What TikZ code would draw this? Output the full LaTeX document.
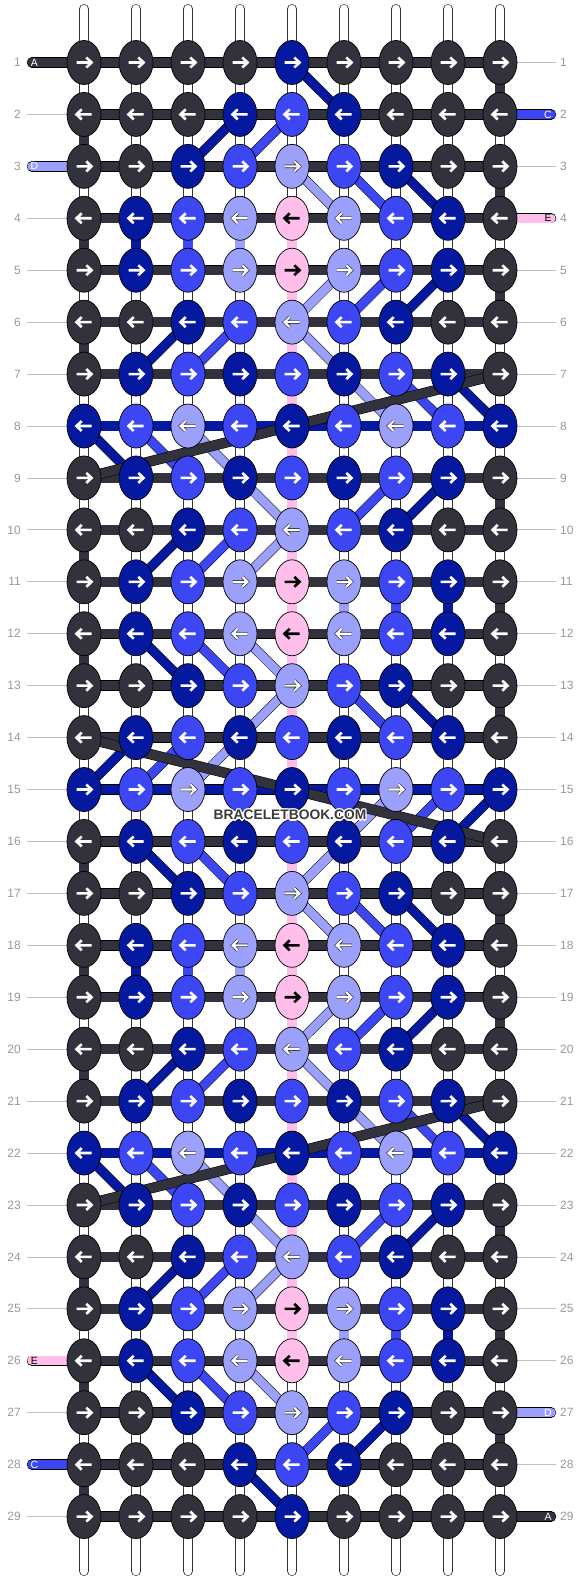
\documentclass[tikz,border=0pt]{standalone}
\usepackage{tikz}
\usepackage{fontspec}
\setmainfont{Liberation Sans}
\usetikzlibrary{shapes.geometric}
\definecolor{cK}{HTML}{32323C}
\definecolor{cB}{HTML}{0519A0}
\definecolor{cM}{HTML}{3C46F2}
\definecolor{cL}{HTML}{9BA0FA}
\definecolor{cP}{HTML}{FFBFEA}
\definecolor{labgray}{HTML}{999999}
\definecolor{glinec}{HTML}{C0C0C0}
\definecolor{wmc}{HTML}{3A3A3A}
\pgfdeclarelayer{l0}
\pgfdeclarelayer{l1}
\pgfdeclarelayer{l2}
\pgfdeclarelayer{l3}
\pgfdeclarelayer{top}
\pgfsetlayers{l0,l1,l2,l3,main,top}
\begin{document}
\begin{tikzpicture}[x=1pt,y=-1pt,
  knot/.style={ellipse, draw=black, line width=0.7pt, minimum width=34pt, minimum height=44pt, inner sep=0pt},
  strand/.style={draw=black, line width=0.5pt, double=#1, double distance=9.4pt},
  band/.style={draw=black, line width=0.5pt, double=#1, double distance=8.6pt},
  endstr/.style={draw=black, line width=0.5pt, double=#1, double distance=9.4pt, line cap=round},
  wstr/.style={draw=black!80, line width=0.6pt, double=white, double distance=8.8pt, line cap=round},
  arrK/.style={draw=white, line width=2.6pt},
  arrB/.style={arrK}, arrM/.style={arrK},
  arrL/.style={draw=black!85, line width=0.6pt, double=white, double distance=2.1pt},
  arrP/.style={draw=black, line width=2.6pt},
  numlab/.style={text=labgray, font=\fontsize{12}{12}\selectfont, inner sep=0pt},
  letter/.style={font=\fontsize{10.5}{10.5}\selectfont, inner sep=0pt},
  wm/.style={font=\bfseries\fontsize{13.8}{14}\selectfont, inner sep=0pt}
]
\path[use as bounding box] (0,0) rectangle (584,1580);
% knots
\foreach \r/\row in {
1/{K,K,K,K,B,K,K,K,K},
2/{K,K,K,B,M,B,K,K,K},
3/{K,K,B,M,L,M,B,K,K},
4/{K,B,M,L,P,L,M,B,K},
5/{K,B,M,L,P,L,M,B,K},
6/{K,K,B,M,L,M,B,K,K},
7/{K,B,M,B,M,B,M,B,K},
8/{B,M,L,M,B,M,L,M,B},
9/{K,B,M,B,M,B,M,B,K},
10/{K,K,B,M,L,M,B,K,K},
11/{K,B,M,L,P,L,M,B,K},
12/{K,B,M,L,P,L,M,B,K},
13/{K,K,B,M,L,M,B,K,K},
14/{K,B,M,B,M,B,M,B,K},
15/{B,M,L,M,B,M,L,M,B},
16/{K,B,M,B,M,B,M,B,K},
17/{K,K,B,M,L,M,B,K,K},
18/{K,B,M,L,P,L,M,B,K},
19/{K,B,M,L,P,L,M,B,K},
20/{K,K,B,M,L,M,B,K,K},
21/{K,B,M,B,M,B,M,B,K},
22/{B,M,L,M,B,M,L,M,B},
23/{K,B,M,B,M,B,M,B,K},
24/{K,K,B,M,L,M,B,K,K},
25/{K,B,M,L,P,L,M,B,K},
26/{K,B,M,L,P,L,M,B,K},
27/{K,K,B,M,L,M,B,K,K},
28/{K,K,K,B,M,B,K,K,K},
29/{K,K,K,K,B,K,K,K,K}}{
  \ifodd\r\relax \def\s{1}\else \def\s{-1}\fi
  \foreach \col [count=\c] in \row {
    \node[knot, fill=c\col] (n-\r-\c) at ({84+52*(\c-1)},{62.5+51.93*(\r-1)}) {};
    \draw[arr\col, shift={(n-\r-\c.center)}] ({-7.5*\s},0) -- ({7*\s},0) ({2.3*\s},-5) -- ({7.5*\s},0) -- ({2.3*\s},5);
  }
  \coordinate (ll-\r) at (27,{62.5+51.93*(\r-1)});
  \coordinate (rl-\r) at (556,{62.5+51.93*(\r-1)});
  \node[numlab, anchor=east] (lnum-\r) at (21,{62.5+51.93*(\r-1)}) {\r};
  \node[numlab, anchor=west] (rnum-\r) at (560,{62.5+51.93*(\r-1)}) {\r};
}
% top and bottom ends of the white strings
\foreach \c in {1,...,9} {
  \coordinate (t-\c) at ({84+52*(\c-1)},9);
  \coordinate (b-\c) at ({84+52*(\c-1)},1571);
}
\begin{pgfonlayer}{l0}
  \fill[white] (0,0) rectangle (584,1580);
  \foreach \r in {1,...,29} {
    \draw[glinec, line width=0.8pt] (ll-\r) -- (n-\r-1.center);
    \draw[glinec, line width=0.8pt] (n-\r-9.center) -- (rl-\r);
  }
  \foreach \c in {1,...,9} {
    \draw[wstr] (t-\c) -- (b-\c);
  }
\end{pgfonlayer}
\begin{pgfonlayer}{l1}
  % vertical coloured segments
  \foreach \r/\c/\k in {1/9/K, 2/1/K, 3/9/K,
    4/1/K, 4/2/B, 4/3/M, 4/4/L, 4/5/P,
    5/5/P, 5/9/K, 6/1/K, 6/5/P, 7/5/P, 8/5/P,
    9/5/P, 9/9/K, 10/1/K, 10/5/P,
    11/5/P, 11/6/L, 11/7/M, 11/8/B, 11/9/K,
    12/1/K, 12/5/P, 13/5/P, 13/9/K, 14/5/P, 15/5/P,
    16/1/K, 16/5/P, 17/5/P, 17/9/K,
    18/1/K, 18/2/B, 18/3/M, 18/4/L, 18/5/P,
    19/5/P, 19/9/K, 20/1/K, 20/5/P, 21/5/P, 22/5/P,
    23/5/P, 23/9/K, 24/1/K, 24/5/P,
    25/5/P, 25/6/L, 25/7/M, 25/8/B, 25/9/K,
    26/1/K, 27/9/K, 28/1/K} {
    \pgfmathtruncatemacro\rr{\r+1}
    \draw[strand=c\k] (n-\r-\c.center) -- (n-\rr-\c.center);
  }
  % horizontal bars
  \foreach \r in {1,...,29} {
    \def\hk{cK}
    \ifnum\r=8 \def\hk{cB}\fi
    \ifnum\r=15 \def\hk{cB}\fi
    \ifnum\r=22 \def\hk{cB}\fi
    \foreach \c in {1,...,8} {
      \pgfmathtruncatemacro\cc{\c+1}
      \draw[strand=\hk] (n-\r-\c.center) -- (n-\r-\cc.center);
    }
  }
  % side strings
  \foreach \r/\k/\t/\tc in {1/K/A/white, 3/L/D/white, 26/P/E/black, 28/M/C/white} {
    \coordinate (sl-\r) at (32,{62.5+51.93*(\r-1)});
    \draw[endstr=c\k] (sl-\r) -- (n-\r-1.center);
    \node[letter, text=\tc] (lt-\r) at (34.5,{62.5+51.93*(\r-1)}) {\t};
  }
  \foreach \r/\k/\t/\tc in {2/M/C/white, 4/P/E/black, 27/L/D/white, 29/K/A/white} {
    \coordinate (sr-\r) at (551,{62.5+51.93*(\r-1)});
    \draw[endstr=c\k] (n-\r-9.center) -- (sr-\r);
    \node[letter, text=\tc] (rt-\r) at (548,{62.5+51.93*(\r-1)}) {\t};
  }
\end{pgfonlayer}
\begin{pgfonlayer}{l2}
  \foreach \r/\a/\b/\k in {
    1/5/6/B, 2/4/3/B, 2/5/4/M,
    3/5/6/L, 3/6/7/M, 3/7/8/B,
    5/6/5/L, 5/7/6/M, 5/8/7/B,
    6/3/2/B, 6/4/3/M, 6/5/6/L,
    7/6/7/L, 7/7/8/M, 7/8/9/B,
    8/1/2/B, 8/2/3/M, 8/3/4/L,
    9/4/5/L, 9/7/6/M, 9/8/7/B,
    10/3/2/B, 10/4/3/M, 10/5/4/L,
    12/2/3/B, 12/3/4/M, 12/4/5/L,
    13/5/4/L, 13/6/7/M, 13/7/8/B,
    14/2/1/B, 14/3/2/M, 14/4/3/L,
    15/7/6/L, 15/8/7/M, 15/9/8/B,
    16/2/3/B, 16/3/4/M, 16/6/5/L,
    17/5/6/L, 17/6/7/M, 17/7/8/B,
    19/6/5/L, 19/7/6/M, 19/8/7/B,
    20/3/2/B, 20/4/3/M, 20/5/6/L,
    21/6/7/L, 21/7/8/M, 21/8/9/B,
    22/1/2/B, 22/2/3/M, 22/3/4/L,
    23/4/5/L, 23/7/6/M, 23/8/7/B,
    24/3/2/B, 24/4/3/M, 24/5/4/L,
    26/2/3/B, 26/3/4/M, 26/4/5/L,
    27/6/5/M, 27/7/6/B,
    28/4/5/B} {
    \pgfmathtruncatemacro\rr{\r+1}
    \draw[band=c\k] (n-\r-\a.center) -- (n-\rr-\b.center);
  }
\end{pgfonlayer}
\begin{pgfonlayer}{l3}
  \draw[strand=cK] (n-7-9.center) -- (n-9-1.center);
  \draw[strand=cK] (n-14-1.center) -- (n-16-9.center);
  \draw[strand=cK] (n-21-9.center) -- (n-23-1.center);
\end{pgfonlayer}
\begin{pgfonlayer}{top}
  \foreach \dx/\dy [count=\i] in {1.3/0, -1.3/0, 0/1.3, 0/-1.3, 0.9/0.9, -0.9/0.9, 0.9/-0.9, -0.9/-0.9} {
    \node[wm, text=white] (halo-\i) at ({290+\dx},{815+\dy}) {BRACELETBOOK.COM};
  }
  \node[wm, text=wmc] (wmark) at (290,815) {BRACELETBOOK.COM};
\end{pgfonlayer}
\end{tikzpicture}
\end{document}
